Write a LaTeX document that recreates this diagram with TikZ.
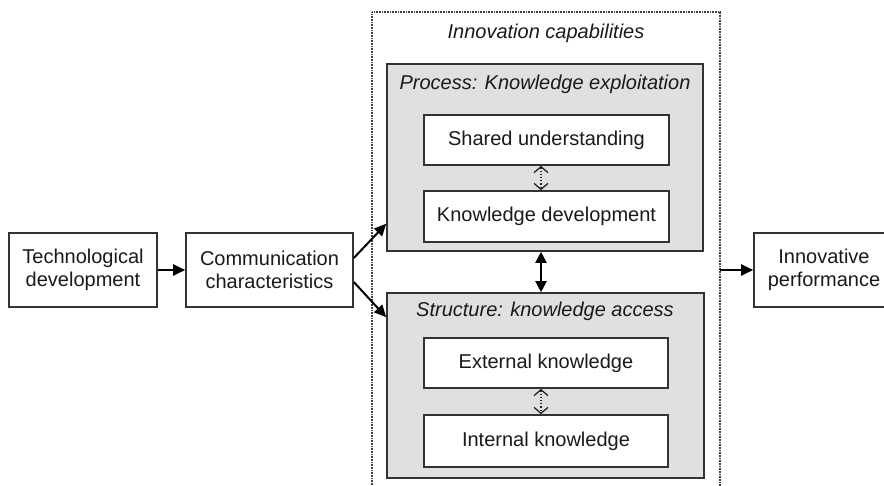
\documentclass[tikz,border=0pt]{standalone}
\usepackage{fontspec}
\setmainfont{Liberation Sans}
\usetikzlibrary{arrows.meta}
\definecolor{boxline}{HTML}{333333}
\definecolor{panelfill}{HTML}{E0E0E0}
\definecolor{txt}{HTML}{1A1A1A}
\tikzset{
  every node/.style={text=txt, font=\fontsize{20}{23}\selectfont},
  plainbox/.style={draw=boxline, line width=1.6pt, fill=white, align=center, inner sep=0pt},
  panel/.style={draw=boxline, line width=1.6pt, fill=panelfill, inner sep=0pt},
  title/.style={font=\fontsize{20}{23}\selectfont\itshape, inner sep=0pt},
  conn/.style={line width=2pt, draw=black, -{Triangle[length=12pt,width=11pt]}},
  dconn/.style={line width=2pt, draw=black, {Triangle[length=11pt,width=11pt]}-{Triangle[length=11pt,width=11pt]}},
  dotconn/.style={line width=1.2pt, draw=black!85, dotted, {Straight Barb[length=6pt,width=14pt,line width=1.3pt]}-{Straight Barb[length=6pt,width=14pt,line width=1.3pt]}},
  outerline/.style={draw=black!75, line width=1.4pt, dash pattern=on 0.8pt off 0.8pt}
}
\begin{document}
\begin{tikzpicture}[x=1pt, y=-1pt]
\useasboundingbox (0,0) rectangle (884,485);
\clip (0,0) rectangle (884,485);
% outer dotted frame
\coordinate (oBL) at (372,490);
\coordinate (oTL) at (372,12);
\coordinate (oTR) at (720,12);
\coordinate (oBR) at (720,490);
\draw[outerline] (oBL) -- (oTL) -- (oTR) -- (oBR);
\node[title] (capt) at (546,33) {Innovation capabilities};
% panels
\node[panel, minimum width=316pt, minimum height=187pt] (proc) at (545,157.5) {};
\node[panel, minimum width=317pt, minimum height=185pt] (struct) at (545.5,385.5) {};
\node[title] (proct) at (545,84) {Process: Knowledge exploitation};
\node[title] (structt) at (545,311) {Structure: knowledge access};
% inner boxes
\node[plainbox, minimum width=245pt, minimum height=50pt] (shared) at (546.5,140) {Shared understanding};
\node[plainbox, minimum width=245pt, minimum height=51pt] (kdev) at (546.5,216.5) {Knowledge development};
\node[plainbox, minimum width=244pt, minimum height=50pt] (ext) at (546,363) {External knowledge};
\node[plainbox, minimum width=244pt, minimum height=52pt] (int) at (546,441) {Internal knowledge};
% left and right boxes
\node[plainbox, minimum width=148pt, minimum height=74pt] (tech) at (83,270) {Technological\\development};
\node[plainbox, minimum width=167pt, minimum height=74pt] (comm) at (269.5,270) {Communication\\characteristics};
\node[plainbox, minimum width=140pt, minimum height=74pt] (perf) at (824,270) {Innovative\\performance};
\coordinate (capR) at (720,270);
% connectors
\draw[conn] (tech) -- (comm);
\draw[conn] ([yshift=12pt]comm.east) -- ([yshift=28pt]proc.south west);
\draw[conn] ([yshift=-12pt]comm.east) -- ([yshift=-25pt]struct.north west);
\draw[conn] (capR) -- (perf.west);
\draw[dconn] ([xshift=-4pt]proc.south) -- ([xshift=-4.5pt]struct.north);
\draw[dotconn] ([xshift=-5.5pt]shared.south) -- ([xshift=-5.5pt]kdev.north);
\draw[dotconn] ([xshift=-5pt]ext.south) -- ([xshift=-5pt]int.north);
\end{tikzpicture}
\end{document}
